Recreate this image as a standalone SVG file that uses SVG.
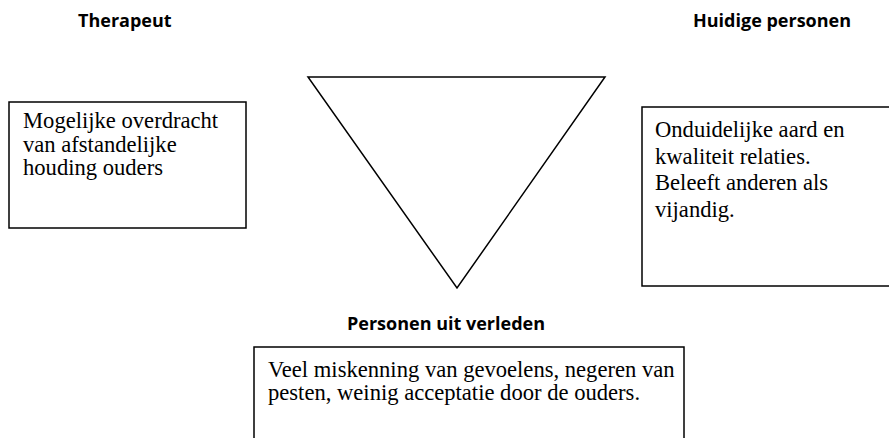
<svg xmlns="http://www.w3.org/2000/svg" width="889" height="438" viewBox="0 0 889 438">
<style>
.hd{font-family:"Open Sans","Liberation Sans",sans-serif;font-weight:bold;font-size:18px;fill:#000}
.bx{fill:#fff;stroke:#000;stroke-width:1.5}
.tx{font-family:"Liberation Serif","Times New Roman",serif;font-size:22.6px;fill:#000}
</style>
<rect width="889" height="438" fill="#fff"/>
<g id="headers">
<text class="hd" x="78" y="27">Therapeut</text>
<text class="hd" x="693" y="27">Huidige personen</text>
<text class="hd" x="347" y="330">Personen uit verleden</text>
</g>
<g id="triangle">
<polygon points="308,77 605,77 457,288" fill="#fff" stroke="#000" stroke-width="1.5"/>
</g>
<g id="box-therapeut">
<rect class="bx" x="9" y="102" width="237" height="126"/>
<text class="tx" x="23" y="128">Mogelijke overdracht</text>
<text class="tx" x="23" y="151.5">van afstandelijke</text>
<text class="tx" x="23" y="175">houding ouders</text>
</g>
<g id="box-huidig">
<rect class="bx" x="642" y="107" width="260" height="179"/>
<text class="tx" x="655" y="137">Onduidelijke aard en</text>
<text class="tx" x="655" y="163.5">kwaliteit relaties.</text>
<text class="tx" x="655" y="190">Beleeft anderen als</text>
<text class="tx" x="655" y="216.5">vijandig.</text>
</g>
<g id="box-verleden">
<rect class="bx" x="254" y="347" width="430" height="110"/>
<text class="tx" x="268" y="377">Veel miskenning van gevoelens, negeren van</text>
<text class="tx" x="268" y="400">pesten, weinig acceptatie door de ouders.</text>
</g>
<g id="connectors"></g>
</svg>
